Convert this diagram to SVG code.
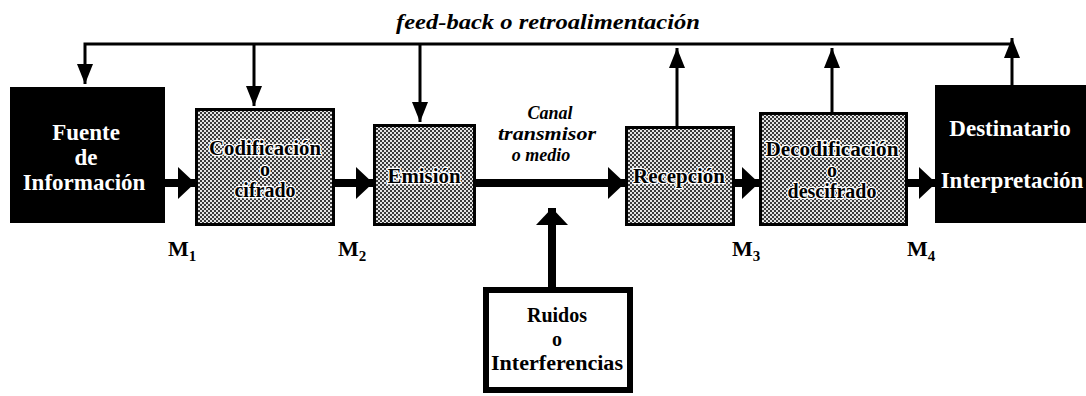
<svg xmlns="http://www.w3.org/2000/svg" width="1086" height="396" viewBox="0 0 1086 396">
<style>
.t{font-family:"Liberation Serif","Times New Roman",serif;font-weight:bold;font-size:23px;text-anchor:middle}
.w{fill:#fff}
.g{font-size:20px;fill:#000;stroke:#fff;stroke-width:2.5px;paint-order:stroke;stroke-linejoin:round}
.i{font-style:italic;font-size:21px}
.c{font-size:18px}
.r{font-size:20px}
.m{font-family:"Liberation Serif","Times New Roman",serif;font-weight:bold;font-size:22px}
.box{fill:url(#dots);stroke:#000;stroke-width:3}
.blk{fill:#000}
.fb{fill:none;stroke:#000;stroke-width:3;marker-end:url(#thin)}
.th{fill:none;stroke:#000;stroke-width:8;marker-end:url(#thick)}
</style>
<defs>
<pattern id="dots" width="4" height="4" patternUnits="userSpaceOnUse">
<rect width="4" height="4" fill="#e4e4e4"/>
<rect width="2" height="2" fill="#3a3a3a"/>
<rect x="2" y="2" width="2" height="2" fill="#3a3a3a"/>
</pattern>
<marker id="thin" markerUnits="userSpaceOnUse" markerWidth="20" markerHeight="16" refX="20" refY="8" orient="auto" viewBox="0 0 20 16">
<path d="M0,0 L20,8 L0,16 z" fill="#000"/>
</marker>
<marker id="thick" markerUnits="userSpaceOnUse" markerWidth="17" markerHeight="32" refX="17" refY="16" orient="auto" viewBox="0 0 17 32">
<path d="M0,0 L17,16 L0,32 z" fill="#000"/>
</marker>
</defs>
<rect width="1086" height="396" fill="#fff"/>

<text class="t i" x="548" y="29" textLength="304" lengthAdjust="spacingAndGlyphs">feed-back o retroalimentación</text>

<g id="connectors">
<path class="fb" d="M1012,44 H85 V84"/>
<path class="fb" d="M254,44 V106"/>
<path class="fb" d="M420,44 V122"/>
<path class="fb" d="M677,126 V48"/>
<path class="fb" d="M832,112 V48"/>
<path class="fb" d="M1012,85 V38"/>
<path class="th" d="M165,183 H195"/>
<path class="th" d="M335,183 H373"/>
<path class="th" d="M476,183 H625"/>
<path class="th" d="M735,183 H759"/>
<path class="th" d="M908,183 H936"/>
<path class="th" d="M552,289 V208"/>
</g>

<g id="fuente">
<rect class="blk" x="10" y="87" width="155" height="136"/>
<text class="t w" x="86" y="140">Fuente</text>
<text class="t w" x="86" y="165">de</text>
<text class="t w" x="84" y="190">Información</text>
</g>

<g id="codificacion">
<rect class="box" x="196.5" y="109.5" width="137" height="115"/>
<text class="t g" x="265" y="155" textLength="112" lengthAdjust="spacingAndGlyphs">Codificación</text>
<text class="t g" x="265" y="176">o</text>
<text class="t g" x="265" y="197">cifrado</text>
</g>

<g id="emision">
<rect class="box" x="374.5" y="125.5" width="100" height="99"/>
<text class="t g" x="424" y="183" textLength="73" lengthAdjust="spacingAndGlyphs">Emisión</text>
</g>

<g id="canal">
<text class="t i c" x="550" y="119">Canal</text>
<text class="t i c" x="547" y="140" textLength="98" lengthAdjust="spacingAndGlyphs">transmisor</text>
<text class="t i c" x="541" y="161">o medio</text>
</g>

<g id="recepcion">
<rect class="box" x="626.5" y="127.5" width="107" height="97"/>
<text class="t g" x="679" y="183" textLength="92" lengthAdjust="spacingAndGlyphs">Recepción</text>
</g>

<g id="decodificacion">
<rect class="box" x="760.5" y="113.5" width="146" height="111"/>
<text class="t g" x="832" y="156" textLength="133" lengthAdjust="spacingAndGlyphs">Decodificación</text>
<text class="t g" x="832" y="177">o</text>
<text class="t g" x="832" y="198">descifrado</text>
</g>

<g id="destinatario">
<rect class="blk" x="935" y="85" width="151" height="138"/>
<text class="t w" x="1010" y="136">Destinatario</text>
<text class="t w" x="1012" y="188">Interpretación</text>
</g>

<g id="ruidos">
<rect x="486" y="290" width="144" height="100" fill="#fff" stroke="#000" stroke-width="6"/>
<text class="t r" x="557" y="322">Ruidos</text>
<text class="t r" x="557" y="346">o</text>
<text class="t r" x="557" y="370" textLength="132" lengthAdjust="spacingAndGlyphs">Interferencias</text>
</g>

<g id="labels">
<text class="m" x="168" y="256">M<tspan font-size="15" dy="5">1</tspan></text>
<text class="m" x="338" y="256">M<tspan font-size="15" dy="5">2</tspan></text>
<text class="m" x="732" y="256">M<tspan font-size="15" dy="5">3</tspan></text>
<text class="m" x="907" y="256">M<tspan font-size="15" dy="5">4</tspan></text>
</g>
</svg>
